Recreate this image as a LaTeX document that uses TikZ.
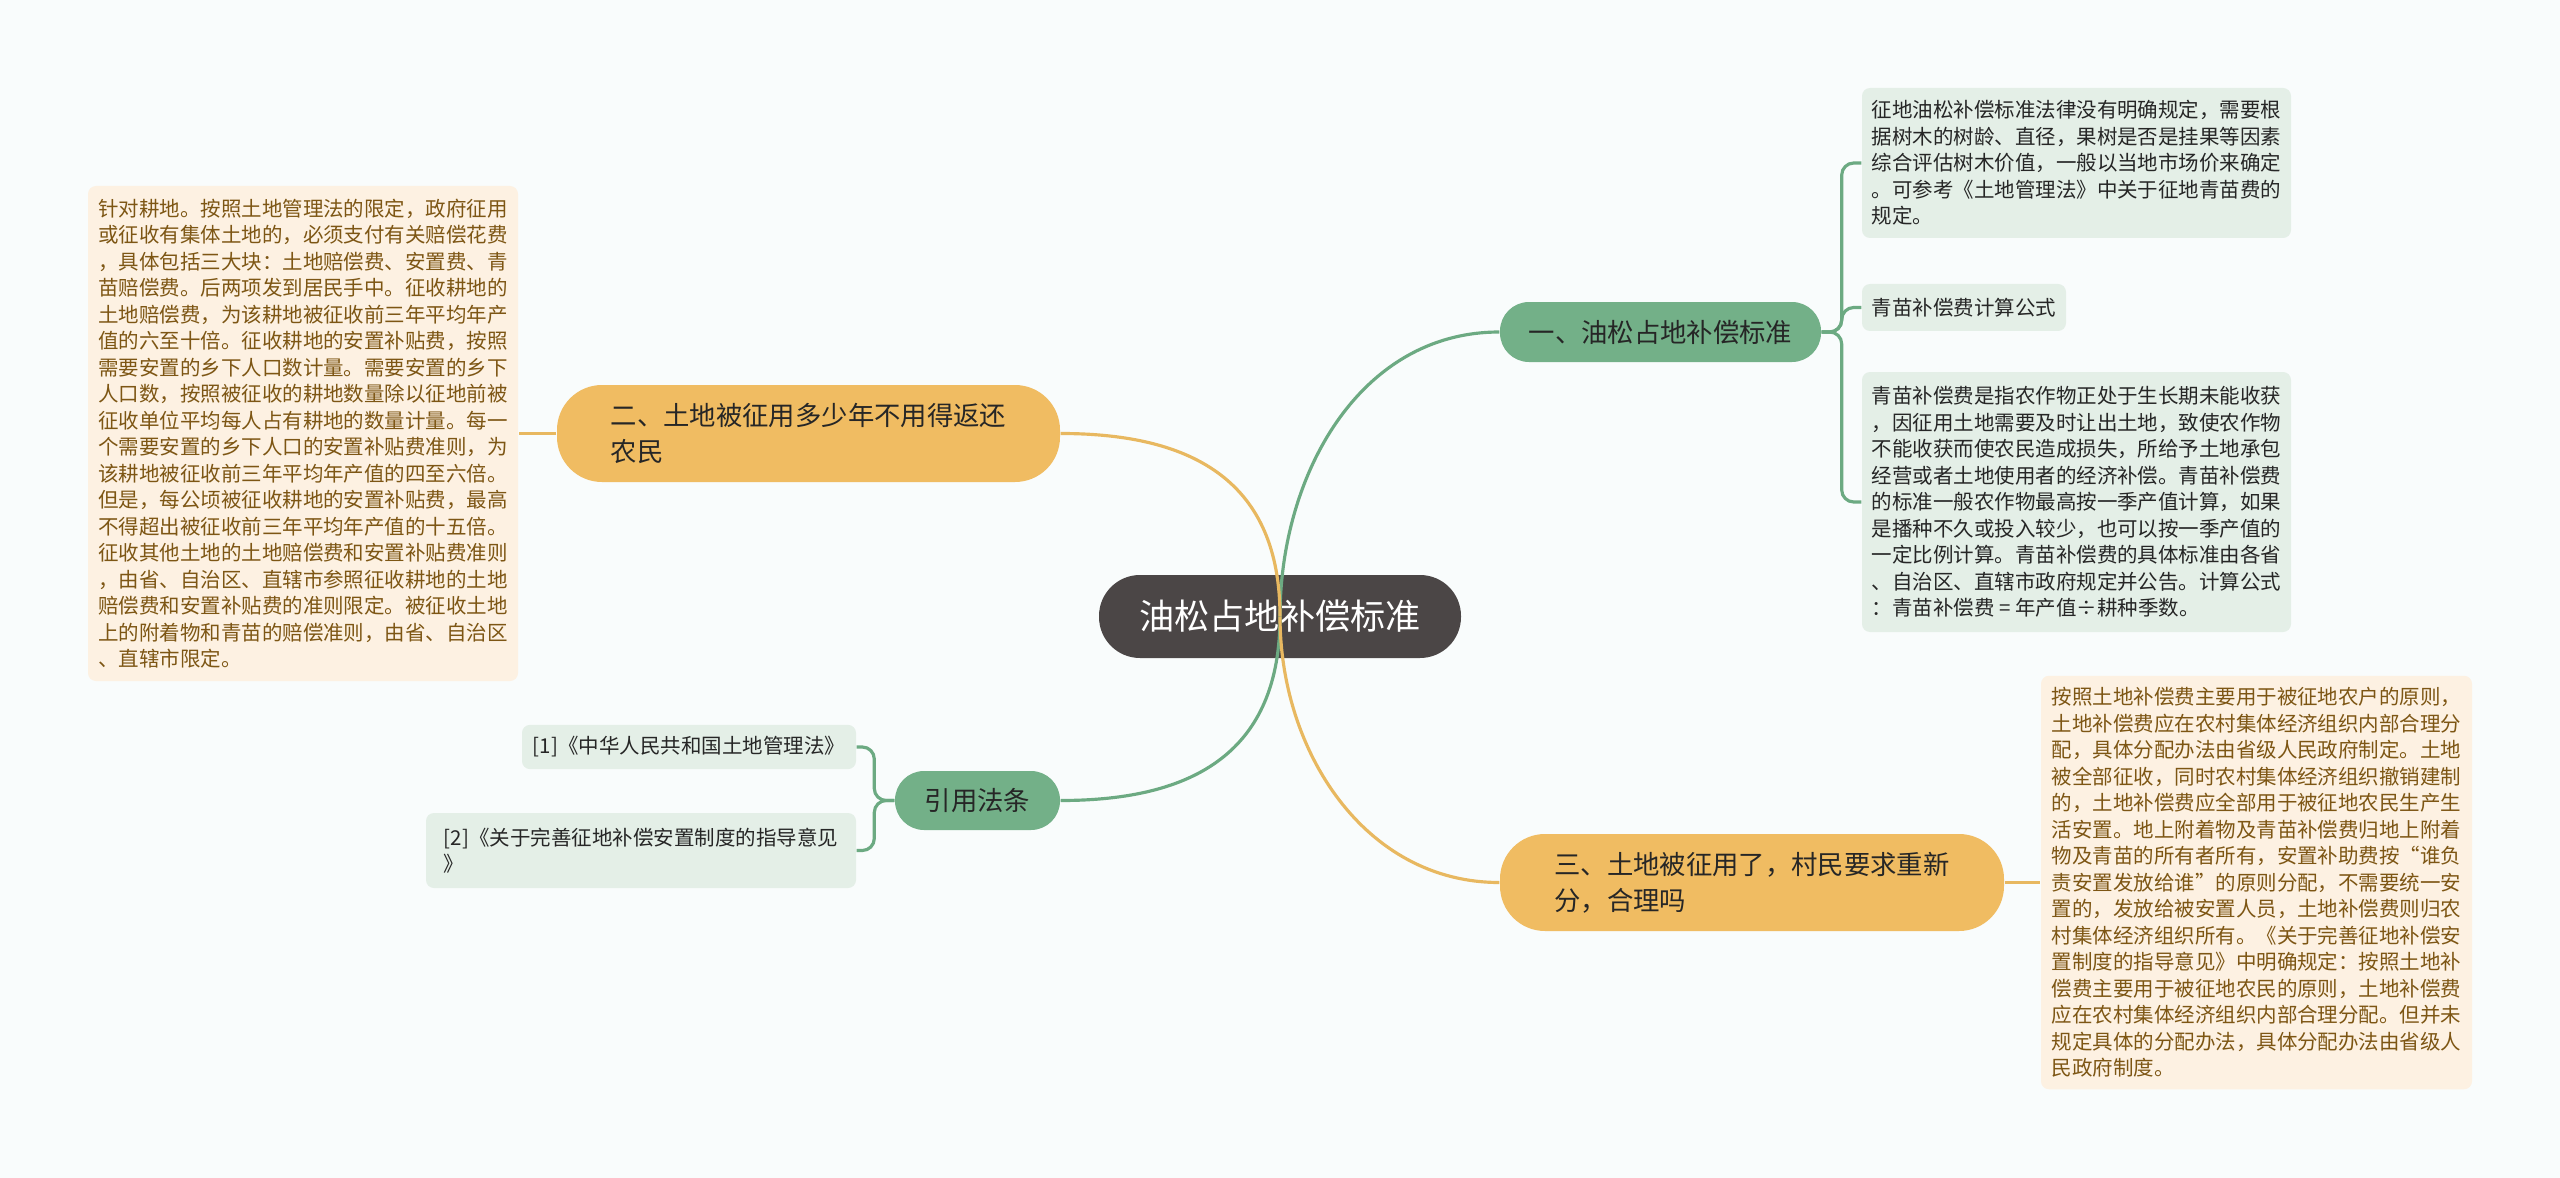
\documentclass[tikz,border=0pt]{standalone}
\usepackage{fontspec}
\setmainfont{Noto Sans CJK SC}
\usetikzlibrary{positioning}
\definecolor{canvasbg}{RGB}{249,252,252}
\definecolor{rootgray}{RGB}{75,70,70}
\definecolor{branchgreen}{RGB}{115,176,136}
\definecolor{branchorange}{RGB}{240,188,98}
\definecolor{leafgreen}{RGB}{228,239,231}
\definecolor{leafcream}{RGB}{253,241,226}
\definecolor{linkgreen}{RGB}{108,170,130}
\definecolor{linkorange}{RGB}{232,184,96}
\definecolor{creamtext}{RGB}{125,86,20}
\definecolor{darktext}{RGB}{38,38,38}

\begin{document}
\begin{tikzpicture}[
  rootbox/.style={fill=rootgray, text=white, rounded corners=0.41cm, font=\fontsize{10}{12}\selectfont},
  greenbranch/.style={fill=branchgreen, text=darktext, rounded corners=0.29cm, align=left, font=\fontsize{7.5}{10.2}\selectfont},
  orangebranch/.style={fill=branchorange, text=darktext, rounded corners=0.45cm, align=left, font=\fontsize{7.5}{10.2}\selectfont},
  greenleaf/.style={fill=leafgreen, text=darktext, rounded corners=0.08cm, align=left, inner xsep=0.08cm, font=\fontsize{5.83}{7.54}\selectfont},
  creamleaf/.style={fill=leafcream, text=creamtext, rounded corners=0.08cm, align=left, inner xsep=0.08cm, font=\fontsize{5.83}{7.54}\selectfont},
  greenlink/.style={linkgreen, line width=0.9pt},
  orangelink/.style={linkorange, line width=0.9pt}
]
\fill[canvasbg] (0,0) rectangle (25.6,-11.78);

\node[rootbox, minimum width=3.62cm, minimum height=0.83cm] (root) at (12.80,-6.165) {油松占地补偿标准};

\node[greenbranch, minimum width=3.21cm, minimum height=0.60cm] (std) at (16.605,-3.32) {一、油松占地补偿标准};
\node[orangebranch, minimum width=5.03cm, minimum height=0.97cm] (years) at (8.085,-4.335) {二、土地被征用多少年不用得返还\\农民};
\node[greenbranch, minimum width=1.65cm, minimum height=0.59cm] (cite) at (9.775,-8.005) {引用法条};
\node[orangebranch, minimum width=5.04cm, minimum height=0.97cm] (resplit) at (17.52,-8.825) {三、土地被征用了，村民要求重新\\分，合理吗};

\node[greenleaf, minimum width=4.29cm, minimum height=1.50cm] (stdA) at (20.765,-1.63) {征地油松补偿标准法律没有明确规定，需要根\\
据树木的树龄、直径，果树是否是挂果等因素\\
综合评估树木价值，一般以当地市场价来确定\\
。可参考《土地管理法》中关于征地青苗费的\\
规定。};
\node[greenleaf, minimum width=2.04cm, minimum height=0.47cm] (stdB) at (19.64,-3.075) {青苗补偿费计算公式};
\node[greenleaf, minimum width=4.29cm, minimum height=2.60cm] (stdC) at (20.765,-5.02) {青苗补偿费是指农作物正处于生长期未能收获\\
，因征用土地需要及时让出土地，致使农作物\\
不能收获而使农民造成损失，所给予土地承包\\
经营或者土地使用者的经济补偿。青苗补偿费\\
的标准一般农作物最高按一季产值计算，如果\\
是播种不久或投入较少，也可以按一季产值的\\
一定比例计算。青苗补偿费的具体标准由各省\\
、自治区、直辖市政府规定并公告。计算公式\\
：青苗补偿费 = 年产值÷耕种季数。};

\node[creamleaf, minimum width=4.31cm, minimum height=4.13cm] (resplitA) at (22.565,-8.825) {按照土地补偿费主要用于被征地农户的原则，\\
土地补偿费应在农村集体经济组织内部合理分\\
配，具体分配办法由省级人民政府制定。土地\\
被全部征收，同时农村集体经济组织撤销建制\\
的，土地补偿费应全部用于被征地农民生产生\\
活安置。地上附着物及青苗补偿费归地上附着\\
物及青苗的所有者所有，安置补助费按“谁负\\
责安置发放给谁”的原则分配，不需要统一安\\
置的，发放给被安置人员，土地补偿费则归农\\
村集体经济组织所有。《关于完善征地补偿安\\
置制度的指导意见》中明确规定：按照土地补\\
偿费主要用于被征地农民的原则，土地补偿费\\
应在农村集体经济组织内部合理分配。但并未\\
规定具体的分配办法，具体分配办法由省级人\\
民政府制度。};

\node[creamleaf, minimum width=4.30cm, minimum height=4.95cm] (yearsA) at (3.03,-4.335) {针对耕地。按照土地管理法的限定，政府征用\\
或征收有集体土地的，必须支付有关赔偿花费\\
，具体包括三大块：土地赔偿费、安置费、青\\
苗赔偿费。后两项发到居民手中。征收耕地的\\
土地赔偿费，为该耕地被征收前三年平均年产\\
值的六至十倍。征收耕地的安置补贴费，按照\\
需要安置的乡下人口数计量。需要安置的乡下\\
人口数，按照被征收的耕地数量除以征地前被\\
征收单位平均每人占有耕地的数量计量。每一\\
个需要安置的乡下人口的安置补贴费准则，为\\
该耕地被征收前三年平均年产值的四至六倍。\\
但是，每公顷被征收耕地的安置补贴费，最高\\
不得超出被征收前三年平均年产值的十五倍。\\
征收其他土地的土地赔偿费和安置补贴费准则\\
，由省、自治区、直辖市参照征收耕地的土地\\
赔偿费和安置补贴费的准则限定。被征收土地\\
上的附着物和青苗的赔偿准则，由省、自治区\\
、直辖市限定。};

\node[greenleaf, minimum width=3.34cm, minimum height=0.44cm] (citeA) at (6.89,-7.47) {[1]《中华人民共和国土地管理法》};
\node[greenleaf, minimum width=4.30cm, minimum height=0.75cm] (citeB) at (6.41,-8.505) {[2]《关于完善征地补偿安置制度的指导意见\\》};

\draw[greenlink] (root.center) to[out=90, in=180] (std.west);
\draw[orangelink] (root.center) to[out=90, in=0, looseness=1.2] (years.east);
\draw[greenlink] (root.center) to[out=-90, in=0, looseness=1.2] (cite.east);
\draw[orangelink] (root.center) to[out=-90, in=180] (resplit.west);

\draw[greenlink, rounded corners=0.12cm] (std.east) -- ++(0.2,0) |- (stdA.west);
\draw[greenlink, rounded corners=0.12cm] (std.east) -- ++(0.2,0) |- (stdB.west);
\draw[greenlink, rounded corners=0.12cm] (std.east) -- ++(0.2,0) |- (stdC.west);
\draw[orangelink] (resplit.east) -- (resplitA.west);
\draw[orangelink] (years.west) -- (yearsA.east);
\draw[greenlink, rounded corners=0.12cm] (cite.west) -- ++(-0.2,0) |- (citeA.east);
\draw[greenlink, rounded corners=0.12cm] (cite.west) -- ++(-0.2,0) |- (citeB.east);
\end{tikzpicture}
\end{document}
